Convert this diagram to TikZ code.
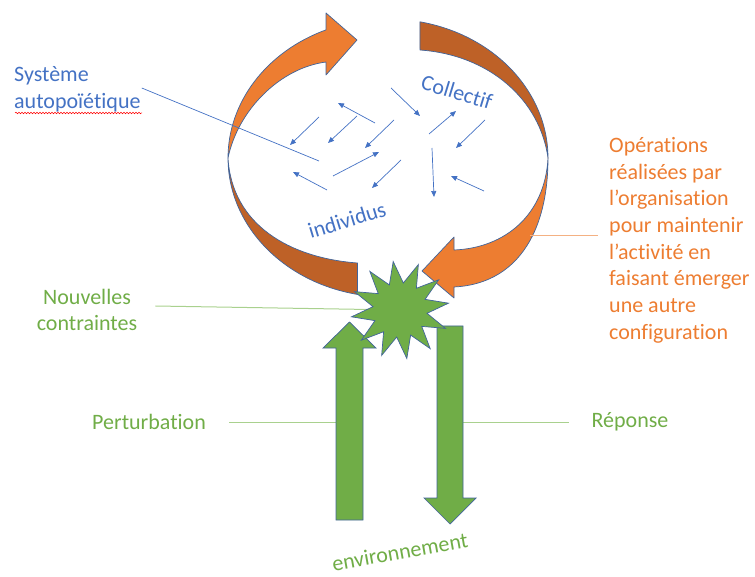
\documentclass[tikz,border=0pt]{standalone}
\usepackage{fontspec}
\setmainfont{Carlito}[Ligatures={NoCommon}]
\usetikzlibrary{arrows.meta,shapes.geometric,decorations.pathmorphing,calc}
\definecolor{bleu}{HTML}{4472C4}
\definecolor{orangeclair}{HTML}{ED7D31}
\definecolor{orangefonce}{HTML}{BE6127}
\definecolor{vert}{HTML}{70AD47}
\definecolor{vertpale}{HTML}{A9D18E}
\definecolor{orangepale}{HTML}{F4B183}
\definecolor{contour}{HTML}{41649A}

\begin{document}
\begin{tikzpicture}[x=1pt,y=-1pt,
  txt/.style={font=\fontsize{22}{26.7}\selectfont, inner sep=0pt},
  bande/.style={draw=contour, line width=0.7pt, line join=round},
  fleche/.style={fill=vert, draw=contour, line width=0.7pt},
  petite/.style={bleu, line width=0.7pt, -{Triangle[width=5pt,length=6pt]}},
  lienvert/.style={vertpale, line width=1pt},
  lienorange/.style={orangepale, line width=1pt},
  lienbleu/.style={bleu, line width=0.7pt}]
\useasboundingbox (0,0) rectangle (755,577);

% anneau
\filldraw[bande, fill=orangefonce] (228,158) arc[start angle=180, end angle=101, x radius=160, y radius=139]
  -- (357.5,263) .. controls (290,258) and (232,225) .. (228,158) -- cycle;
\filldraw[bande, fill=orangefonce] (419.9,21.8) arc[start angle=281.5, end angle=360, x radius=160, y radius=139]
  .. controls (540,100) and (490,55) .. (420,50) -- cycle;
\filldraw[bande, fill=orangeclair] (228,158) arc[start angle=180, end angle=247.2, x radius=160, y radius=139]
  -- (326,13) -- (357,40) -- (326,75) -- (326,62) .. controls (280,68) and (238,110) .. (228,158) -- cycle;
\filldraw[bande, fill=orangeclair] (548,158) .. controls (548,235) and (515,284) .. (454,287)
  -- (454,298) -- (422,271) -- (454,237) -- (454,250) .. controls (505,248) and (545,215) .. (548,158) -- cycle;

% individus
\foreach \xa/\ya/\xb/\yb in {319/117/290/145, 375/123/338/103, 357/116/328/143, 394/120/365/148,
  391/88/420/116, 429/134/456/111, 485/120/456/148, 432/148/434/197, 484/191/451/176,
  333/176/379/152, 327/190/293/172, 401/160/372/188}
  \draw[petite] (\xa,\ya) -- (\xb,\yb);

\node[txt, text=bleu, rotate=-17] (coll) at (457,92) {Collectif};
\node[txt, text=bleu, rotate=17] (indiv) at (347,220) {individus};

\node[txt, text=bleu, align=left, anchor=west] (sys) at (14,89) {Système\\autopoïétique};
\draw[red, line width=0.5pt, decorate, decoration={snake, amplitude=0.8pt, segment length=3pt}] (15,113) -- (142,113);
\coordinate (sysfin) at (319,161);
\draw[lienbleu] ($(sys.east)+(1,-1)$) -- (sysfin);

\node[txt, text=orangeclair, align=left, anchor=north west] (oper) at (609,137) {Opérations\\réalisées par\\l’organisation\\pour maintenir\\l’activité en\\faisant émerger\\une autre\\configuration};
\coordinate (anneau) at (530,236);
\draw[lienorange] (anneau) -- ($(oper.west |- anneau)+(-11,0)$);

% environnement
\node[txt, text=vert, align=center] (nouv) at (87,310) {Nouvelles\\contraintes};
\node[txt, text=vert] (pert) at (149,422) {Perturbation};
\node[txt, text=vert] (rep) at (630,422) {Réponse};
\node[txt, text=vert, rotate=10] (env) at (400,552) {environnement};
\coordinate (monte) at (349.5,430);
\coordinate (descend) at (450,430);
\node (choc) at (400,310) {};
\draw[lienvert] ($(nouv.east)+(18,-4)$) -- (choc);
\draw[lienvert] ($(pert.east)+(23,0)$) -- (pert.east -| monte);
\draw[lienvert] (rep.west -| descend) -- ($(rep.west)+(-22,0)$);

\filldraw[fleche] (336,520) -- (336,348) -- (323,348) -- (349.5,322) -- (376,348) -- (363,348) -- (363,520) -- cycle;
\filldraw[fleche] (437,326) -- (437,498) -- (424,498) -- (450,524) -- (476,498) -- (463,498) -- (463,326) -- cycle;
\node[star, star points=12, star point ratio=1.8, minimum size=98pt, inner sep=0pt, rotate=8, fill=vert, draw=contour, line width=0.7pt] at (choc) {};
\end{tikzpicture}
\end{document}
